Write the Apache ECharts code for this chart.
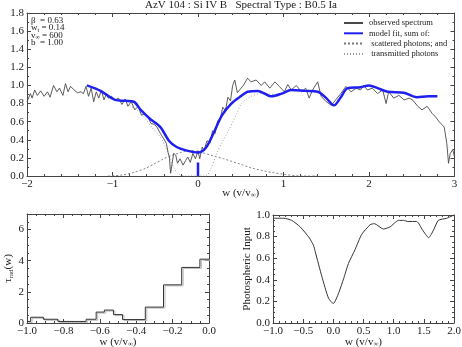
<!DOCTYPE html>
<html>
<head>
<meta charset="utf-8">
<script src="https://cdn.jsdelivr.net/npm/echarts@6/dist/echarts.min.js"></script>
<style>
  html, body { margin: 0; padding: 0; background: #fff; }
  #chart { width: 462px; height: 347px; }
</style>
</head>
<body>
<div id="chart"></div>
<script>
// observed spectrum (w, relative flux)
const obsW = [-2.0,-1.96,-1.94,-1.91,-1.88,-1.84,-1.80,-1.76,-1.73,-1.69,-1.65,-1.62,-1.58,-1.55,-1.52,-1.49,-1.45,-1.41,-1.37,-1.34,-1.31,-1.28,-1.25,-1.22,-1.19,-1.16,-1.13,-1.10,-1.07,-1.05,-1.01,-0.97,-0.93,-0.89,-0.85,-0.82,-0.78,-0.74,-0.70,-0.66,-0.62,-0.58,-0.55,-0.51,-0.48,-0.44,-0.40,-0.37,-0.35,-0.335,-0.32,-0.30,-0.285,-0.26,-0.24,-0.21,-0.175,-0.145,-0.12,-0.09,-0.06,-0.03,0.0,0.02,0.05,0.07,0.105,0.14,0.17,0.20,0.23,0.26,0.29,0.32,0.35,0.38,0.405,0.43,0.46,0.53,0.58,0.62,0.68,0.74,0.78,0.84,0.90,0.95,1.01,1.05,1.09,1.15,1.21,1.26,1.30,1.34,1.40,1.44,1.50,1.56,1.61,1.67,1.73,1.79,1.85,1.90,1.94,1.98,2.04,2.10,2.16,2.20,2.23,2.29,2.35,2.41,2.47,2.51,2.57,2.62,2.68,2.74,2.78,2.82,2.88,2.91,2.93,2.95,2.98,3.0];
const obsF = [0.82,0.91,0.86,0.95,0.89,0.94,0.88,0.93,0.87,1.0,0.93,0.97,0.89,1.02,0.93,0.99,0.95,0.92,0.93,0.91,0.99,0.88,0.97,0.82,0.93,0.86,0.95,0.84,0.91,0.86,0.88,0.84,0.86,0.79,0.85,0.77,0.82,0.73,0.77,0.67,0.69,0.64,0.58,0.57,0.54,0.47,0.41,0.36,0.26,0.21,0.03,0.04,0.25,0.23,0.14,0.19,0.12,0.17,0.21,0.15,0.25,0.19,0.28,0.19,0.32,0.28,0.39,0.36,0.50,0.47,0.61,0.63,0.76,0.72,0.87,0.83,1.0,1.06,0.92,1.0,1.08,1.04,1.06,1.0,1.04,0.97,1.04,0.99,0.93,1.01,0.95,1.0,0.93,0.97,0.86,0.95,1.04,0.88,0.82,0.78,0.84,0.91,0.99,0.93,0.97,0.95,1.0,0.95,0.97,0.91,0.95,0.80,0.93,0.86,0.89,0.84,0.86,0.84,0.77,0.73,0.77,0.69,0.65,0.60,0.54,0.36,0.14,0.25,0.29,0.21];

// model fit
const modelW = [-1.3,-1.14,-0.97,-0.85,-0.75,-0.67,-0.56,-0.44,-0.34,-0.25,-0.13,0.0,0.09,0.18,0.28,0.39,0.5,0.58,0.7,0.86,0.98,1.09,1.25,1.4,1.5,1.59,1.67,1.75,1.9,2.0,2.1,2.22,2.41,2.56,2.7,2.8];
const modelF = [1.0,0.94,0.84,0.83,0.82,0.73,0.63,0.54,0.39,0.32,0.28,0.26,0.31,0.47,0.67,0.80,0.88,0.93,0.94,0.88,0.91,0.95,0.94,0.93,0.86,0.78,0.87,0.97,0.98,1.0,0.97,0.93,0.92,0.87,0.88,0.88];

// scattered photons
const scatW = [-1.05,-0.9,-0.75,-0.6,-0.5,-0.4,-0.3,-0.2,-0.1,0.0,0.15,0.3,0.4,0.5,0.62,0.75,0.86,1.0,1.2,1.4];
const scatF = [0.0,0.01,0.04,0.09,0.14,0.19,0.23,0.26,0.28,0.27,0.23,0.19,0.16,0.13,0.09,0.06,0.04,0.02,0.0,0.0];

// transmitted photons
const tranW = [-0.8,-0.7,-0.62,-0.56,-0.44,-0.38,-0.32,-0.28,-0.24,-0.2,-0.15,0.09,0.15,0.22,0.28,0.34,0.45,0.51,0.62,0.74,0.9];
const tranF = [0.78,0.72,0.64,0.56,0.43,0.32,0.18,0.09,0.03,0.01,0.0,0.0,0.08,0.25,0.37,0.47,0.68,0.8,0.88,0.91,0.90];

// rest-wavelength marker
const restMark = [0, 0.15];

// tau_rad histogram (bin left edges, last value = right end)
const tauEdges = [-1.0,-0.98,-0.91,-0.83,-0.675,-0.62,-0.575,-0.525,-0.475,-0.35,-0.25,-0.15,-0.05,0.0];
const tauVals = [0.1,0.37,0.24,0.1,0.24,0.7,0.83,0.54,0.22,1.02,2.45,3.57,4.1];

// photospheric input
const photW = [-1.0,-0.82,-0.69,-0.55,-0.40,-0.33,-0.30,-0.19,-0.08,0.0,0.09,0.17,0.25,0.36,0.47,0.61,0.68,0.83,0.94,1.08,1.16,1.24,1.38,1.48,1.58,1.66,1.74,1.88,2.0];
const photF = [0.97,0.97,0.95,0.89,0.79,0.72,0.66,0.43,0.23,0.18,0.28,0.41,0.55,0.68,0.82,0.91,0.92,0.87,0.89,0.95,0.95,0.94,0.94,0.86,0.79,0.86,0.95,0.97,1.0];

const zip = (a, b) => a.map((v, i) => [v, b[i]]);
const tauData = tauEdges.map((e, i) => [e, tauVals[Math.min(i, tauVals.length - 1)]]);

const FONT = 'Liberation Serif';
const INK = '#222';
const fmt = d => v => (v < 0 ? '\u2212' : '') + Math.abs(v).toFixed(d);

// axis with ticks inside, frame style
const ax = (extra) => Object.assign({
    type: 'value',
    axisLine: { show: true, onZero: false, lineStyle: { color: '#444', width: 1 } },
    axisTick: { show: true, inside: true, length: 4, lineStyle: { color: '#444' } },
    minorTick: { show: true, splitNumber: 4, length: 2, lineStyle: { color: '#444' } },
    splitLine: { show: false },
    axisLabel: { color: INK, fontFamily: FONT, fontSize: 11, margin: 3 }
}, extra);
const mirror = (extra) => ax(Object.assign({ axisLabel: { show: false } }, extra));

const nameRich = {
    n: { fontFamily: FONT, fontSize: 11, color: INK },
    s: { fontFamily: FONT, fontSize: 7, color: INK, padding: [5, 0, 0, 0] }
};
const xName = '{n|w (v/v}{s|\u221e}{n|)}';
const annRich = {
    n: { fontFamily: FONT, fontSize: 9, fill: INK, verticalAlign: 'top' },
    s: { fontFamily: FONT, fontSize: 6, fill: INK, verticalAlign: 'top', padding: [3.5, 0, 0, 0] }
};

const chart = echarts.init(document.getElementById('chart'));

const option = {
    animation: false,
    backgroundColor: '#fff',
    grid: [
        { left: 27, right: 7.5, top: 13, height: 163, outerBoundsMode: 'none', containLabel: false },
        { left: 27, width: 182, top: 214, height: 109, outerBoundsMode: 'none', containLabel: false },
        { left: 273, width: 181, top: 215, height: 108, outerBoundsMode: 'none', containLabel: false }
    ],
    legend: {
        orient: 'vertical',
        left: 343,
        top: 18.5,
        padding: 0,
        itemWidth: 19,
        itemHeight: 10,
        itemGap: 1.3,
        itemStyle: { opacity: 0 },
        textStyle: { fontFamily: FONT, fontSize: 8.5, color: INK, padding: [0, 0, 0, 1] },
        data: ['observed spectrum', 'model fit, sum of:', ' scattered photons; and', ' transmitted photons']
    },
    xAxis: [
        ax({ gridIndex: 0, min: -2, max: 3, interval: 1, minorTick: { show: true, splitNumber: 5, length: 2, lineStyle: { color: '#444' } },
            axisLabel: { color: INK, fontFamily: FONT, fontSize: 11, margin: 3, formatter: fmt(0) },
            name: xName, nameLocation: 'middle', nameGap: 11, nameMoveOverlap: false, nameTextStyle: { rich: nameRich } }),
        mirror({ gridIndex: 0, position: 'top', min: -2, max: 3, interval: 1, minorTick: { show: true, splitNumber: 5, length: 2, lineStyle: { color: '#444' } } }),
        ax({ gridIndex: 1, min: -1, max: 0, interval: 0.2,
            axisLabel: { color: INK, fontFamily: FONT, fontSize: 11, margin: 3, formatter: fmt(1) },
            name: xName, nameLocation: 'middle', nameGap: 13, nameMoveOverlap: false, nameTextStyle: { rich: nameRich } }),
        mirror({ gridIndex: 1, position: 'top', min: -1, max: 0, interval: 0.2 }),
        ax({ gridIndex: 2, min: -1, max: 2, interval: 0.5, minorTick: { show: true, splitNumber: 5, length: 2, lineStyle: { color: '#444' } },
            axisLabel: { color: INK, fontFamily: FONT, fontSize: 11, margin: 3, formatter: fmt(1) },
            name: xName, nameLocation: 'middle', nameGap: 13, nameMoveOverlap: false, nameTextStyle: { rich: nameRich } }),
        mirror({ gridIndex: 2, position: 'top', min: -1, max: 2, interval: 0.5, minorTick: { show: true, splitNumber: 5, length: 2, lineStyle: { color: '#444' } } })
    ],
    yAxis: [
        ax({ gridIndex: 0, min: 0, max: 1.8, interval: 0.2, minorTick: { show: true, splitNumber: 2, length: 2, lineStyle: { color: '#444' } },
            axisLabel: { color: INK, fontFamily: FONT, fontSize: 11, margin: 3, formatter: fmt(1) },
            name: 'Relative Flux', nameLocation: 'middle', nameGap: 12,
            nameTextStyle: { fontFamily: FONT, fontSize: 11, color: INK } }),
        mirror({ gridIndex: 0, position: 'right', min: 0, max: 1.8, interval: 0.2, minorTick: { show: true, splitNumber: 2, length: 2, lineStyle: { color: '#444' } } }),
        ax({ gridIndex: 1, min: 0, max: 7, interval: 2, minorTick: { show: true, splitNumber: 4, length: 2, lineStyle: { color: '#444' } },
            axisLabel: { color: INK, fontFamily: FONT, fontSize: 11, margin: 3, showMaxLabel: false },
            name: '{n|\u03c4}{s|rad}{n|(w)}', nameLocation: 'middle', nameGap: 9,
            nameTextStyle: { rich: nameRich } }),
        mirror({ gridIndex: 1, position: 'right', min: 0, max: 7, interval: 2, minorTick: { show: true, splitNumber: 4, length: 2, lineStyle: { color: '#444' } } }),
        ax({ gridIndex: 2, min: 0, max: 1, interval: 0.2,
            axisLabel: { color: INK, fontFamily: FONT, fontSize: 11, margin: 3, formatter: fmt(1) },
            name: 'Photospheric Input', nameLocation: 'middle', nameGap: 17,
            nameTextStyle: { fontFamily: FONT, fontSize: 11, color: INK } }),
        mirror({ gridIndex: 2, position: 'right', min: 0, max: 1, interval: 0.2 })
    ],
    graphic: [
        { type: 'text', left: 145, top: 0, style: { text: 'AzV 104 : Si IV B   Spectral Type : B0.5 Ia', fontFamily: FONT, fontSize: 11, fill: INK } },
        { type: 'text', left: 31, top: 16, style: { text: '{n|\u03b2  = 0.63}', rich: annRich } },
        { type: 'text', left: 31, top: 23.5, style: { text: '{n|w}{s|t}{n| = 0.14}', rich: annRich } },
        { type: 'text', left: 31, top: 31, style: { text: '{n|v}{s|\u221e}{n| = 600}', rich: annRich } },
        { type: 'text', left: 31, top: 38.5, style: { text: '{n|b  = 1.00}', rich: annRich } }
    ],
    series: [
        { name: 'observed spectrum', type: 'line', xAxisIndex: 0, yAxisIndex: 0, symbol: 'none',
          lineStyle: { color: '#4a4a4a', width: 0.9 }, itemStyle: { color: '#4a4a4a', opacity: 0 }, data: zip(obsW, obsF), z: 3 },
        { name: ' scattered photons; and', type: 'line', xAxisIndex: 0, yAxisIndex: 0, symbol: 'none', smooth: 0.3,
          lineStyle: { color: '#777', width: 0.9, type: [2, 2] }, itemStyle: { color: '#777', opacity: 0 }, data: zip(scatW, scatF), z: 2 },
        { name: ' transmitted photons', type: 'line', xAxisIndex: 0, yAxisIndex: 0, symbol: 'none', smooth: 0.3,
          lineStyle: { color: '#999', width: 0.9, type: [1, 2] }, itemStyle: { color: '#999', opacity: 0 }, data: zip(tranW, tranF), z: 2 },
        { name: 'model fit, sum of:', type: 'line', xAxisIndex: 0, yAxisIndex: 0, symbol: 'none', smooth: 0.3,
          lineStyle: { color: '#1f1ff0', width: 2.5 }, itemStyle: { color: '#1f1ff0', opacity: 0 }, data: zip(modelW, modelF), z: 4 },
        { name: 'rest', type: 'line', xAxisIndex: 0, yAxisIndex: 0, symbol: 'none',
          lineStyle: { color: '#1f1ff0', width: 2.5 }, data: [[restMark[0], 0], [restMark[0], restMark[1]]], z: 4 },
        { name: 'tau', type: 'line', xAxisIndex: 2, yAxisIndex: 2, symbol: 'none', step: 'end',
          lineStyle: { color: '#333', width: 1, shadowColor: '#bbb', shadowOffsetX: 1.5, shadowOffsetY: 1 }, data: tauData },
        { name: 'phot', type: 'line', xAxisIndex: 4, yAxisIndex: 4, symbol: 'none', smooth: 0.2,
          lineStyle: { color: '#333', width: 1 }, data: zip(photW, photF) }
    ]
};

chart.setOption(option);
</script>
</body>
</html>
